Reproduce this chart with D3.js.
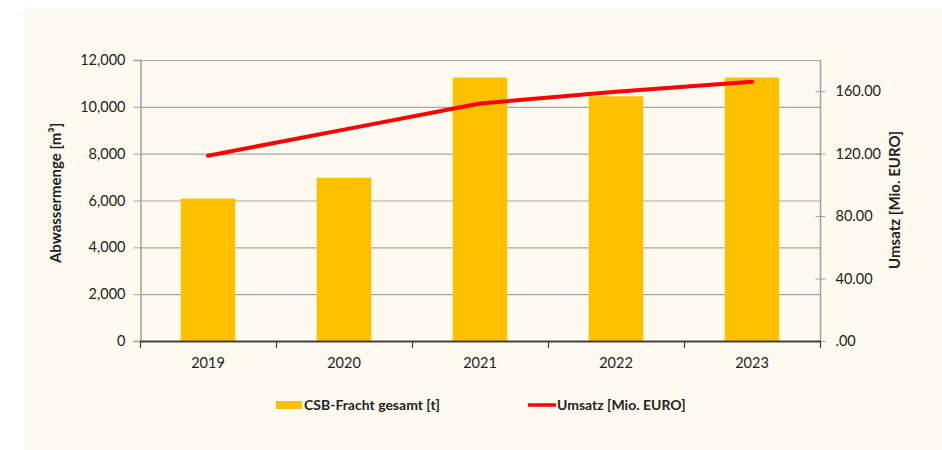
<!DOCTYPE html>
<html><head><meta charset="utf-8">
<script src="https://cdn.jsdelivr.net/npm/d3@7/dist/d3.min.js"></script>
<style>body{margin:0;background:#fff}svg{display:block}</style>
</head><body><svg id="c" width="942" height="450"></svg>
<script>
const years = ["2019","2020","2021","2022","2023"];
const csbFracht = [6080, 6970, 11250, 10450, 11250];
const umsatz = [118.7, 135.4, 152.1, 159.7, 166.0];
const leftTicks = [0,2000,4000,6000,8000,10000,12000];
const rightTicks = [0,40,80,120,160];
const seriesNames = ["CSB-Fracht gesamt [t]", "Umsatz [Mio. EURO]"];
const leftTitle = "Abwassermenge [m³]";
const rightTitle = "Umsatz [Mio. EURO]";

const svg = d3.select("#c");
const font = "Lato, 'Open Sans', sans-serif";
svg.append("rect").attr("x",24).attr("y",10).attr("width",918).attr("height",440).attr("fill","#fffaef");

const L=140, R=820, T=60, B=341;
const x = d3.scaleBand().domain(years).range([L,R]).paddingInner(0.6).paddingOuter(0.3);
const yL = d3.scaleLinear().domain([0,12000]).range([B,T]);
const yR = d3.scaleLinear().domain([0,180]).range([B,T]);

// grid
svg.append("g").selectAll("line").data(leftTicks.filter(d=>d>0)).join("line")
  .attr("x1",L).attr("x2",R).attr("y1",d=>yL(d)+0.5).attr("y2",d=>yL(d)+0.5)
  .attr("stroke","#a6a6a6").attr("stroke-width",1.2);

// bars
svg.append("g").selectAll("rect").data(years).join("rect")
  .attr("x",d=>x(d)).attr("width",x.bandwidth())
  .attr("y",(d,i)=>yL(csbFracht[i])).attr("height",(d,i)=>B-yL(csbFracht[i]))
  .attr("fill","#ffc000");

// left axis
const gl = svg.append("g").attr("transform",`translate(${L+0.5},0)`)
  .call(d3.axisLeft(yL).tickValues(leftTicks).tickFormat(d3.format(",")).tickSize(7).tickPadding(8));
gl.select(".domain").attr("stroke","#a0a0a0").attr("stroke-width",1.5);
gl.selectAll(".tick line").attr("stroke","#a0a0a0");
gl.selectAll("text").attr("font-family",font).attr("font-size",14.5).attr("fill","#222");

// right axis
const gr = svg.append("g").attr("transform",`translate(${R+0.5},0)`)
  .call(d3.axisRight(yR).tickValues(rightTicks).tickFormat(d=>d===0?".00":d3.format(".2f")(d)).tickSize(5).tickPadding(10));
gr.select(".domain").attr("stroke","#a0a0a0").attr("stroke-width",1.5).attr("d",`M0,${T}V${B}`);
gr.selectAll(".tick line").attr("stroke","#a0a0a0").attr("x1",-5);
gr.selectAll("text").attr("font-family",font).attr("font-size",14.5).attr("fill","#222");

// bottom axis
const xb = d3.scalePoint().domain(d3.range(6)).range([L,R]);
svg.append("g").selectAll("line").data(d3.range(6)).join("line")
  .attr("x1",d=>xb(d)+0.5).attr("x2",d=>xb(d)+0.5).attr("y1",B).attr("y2",B+7)
  .attr("stroke","#404040").attr("stroke-width",1.2);
svg.append("line").attr("x1",L).attr("x2",R+1).attr("y1",B+0.5).attr("y2",B+0.5)
  .attr("stroke","#404040").attr("stroke-width",1.8);
svg.append("g").selectAll("text").data(years).join("text")
  .attr("x",d=>x(d)+x.bandwidth()/2).attr("y",368).attr("text-anchor","middle")
  .attr("font-family",font).attr("font-size",14.5).attr("fill","#222").text(d=>d);

// line
const line = d3.line().x((d,i)=>x(years[i])+x.bandwidth()/2).y(d=>yR(d));
svg.append("path").datum(umsatz).attr("d",line).attr("fill","none")
  .attr("stroke","#ff0000").attr("stroke-width",4).attr("stroke-linecap","round").attr("stroke-linejoin","round");

// axis titles
svg.append("text").attr("transform","translate(61,193) rotate(-90)").attr("text-anchor","middle")
  .attr("font-family",font).attr("font-size",15).attr("font-weight","bold").attr("fill","#222").text(leftTitle);
svg.append("text").attr("transform","translate(900,200) rotate(-90)").attr("text-anchor","middle")
  .attr("font-family",font).attr("font-size",15).attr("font-weight","bold").attr("fill","#222").text(rightTitle);

// legend
const lg = svg.append("g");
lg.append("rect").attr("x",276).attr("y",401).attr("width",26).attr("height",8).attr("fill","#ffc000");
lg.append("text").attr("x",304).attr("y",410).attr("font-family",font).attr("font-size",14).attr("font-weight","bold").attr("fill","#222").text(seriesNames[0]);
lg.append("line").attr("x1",528).attr("x2",556).attr("y1",405).attr("y2",405).attr("stroke","#ff0000").attr("stroke-width",3.5);
lg.append("text").attr("x",557).attr("y",410).attr("font-family",font).attr("font-size",14).attr("font-weight","bold").attr("fill","#222").text(seriesNames[1]);
</script></body></html>
